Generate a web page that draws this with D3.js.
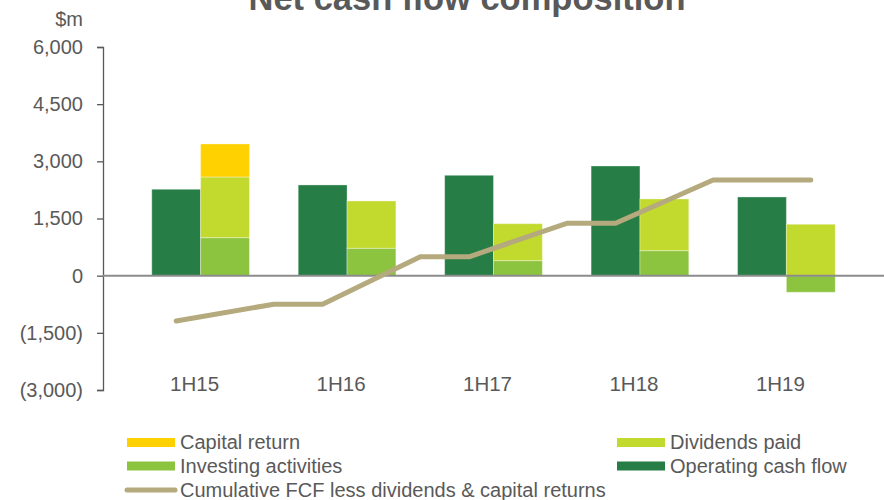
<!DOCTYPE html>
<html>
<head>
<meta charset="utf-8">
<script src="https://cdn.jsdelivr.net/npm/d3@7"></script>
<style>
  body { margin: 0; background: #fff; }
  svg { font-family: "Liberation Sans", Arial, sans-serif; }
</style>
</head>
<body>
<svg id="chart" width="884" height="500"></svg>
<script>
// Data ($m)
const periods = ["1H15", "1H16", "1H17", "1H18", "1H19"];
const operatingCashFlow = [2267, 2380, 2634, 2878, 2065];
const investingActivities = [997, 719, 394, 656, -436];
const dividendsPaid = [1593, 1241, 970, 1357, 1349];
const capitalReturn = [866, 0, 0, 0, 0];

// Cumulative line: points sit on bar centres and in the gaps between groups
const cumulativePeriods = ["1H15", "1H15", "1H16", "1H16", "1H17", "1H17", "1H18", "1H18", "1H19"];
const cumulativeSlots = ["op", "gap", "op", "gap", "op", "gap", "op", "gap", "stack"];
const cumulativeValues = [-1190, -750, -750, 495, 495, 1375, 1375, 2510, 2510];

const yTicks = [-3000, -1500, 0, 1500, 3000, 4500, 6000];

const colors = {
  operating: "#267d45",
  investing: "#8cc33f",
  dividends: "#c2d92e",
  capital: "#ffd100",
  line: "#b5aa7e",
  text: "#595959"
};

const svg = d3.select("#chart");

// Scales
const y = d3.scaleLinear().domain([-3000, 6000]).range([390, 47]);
const x0 = d3.scaleBand().domain(periods).range([103, 884]).padding(0.333);
const x1 = d3.scaleBand().domain(["op", "stack"]).range([0, x0.bandwidth()]);

function slotX(period, slot) {
  if (slot === "gap") return x0(period) + x0.bandwidth() + (x0.step() - x0.bandwidth()) / 2;
  return x0(period) + x1(slot) + x1.bandwidth() / 2;
}

// Title (partly cut off at the top, like the original)
svg.append("text")
  .attr("x", 467)
  .attr("y", 10)
  .attr("text-anchor", "middle")
  .attr("font-size", 34.5)
  .attr("font-weight", "bold")
  .attr("fill", colors.text)
  .text("Net cash flow composition");

// Unit label
svg.append("text")
  .attr("x", 83)
  .attr("y", 26)
  .attr("text-anchor", "end")
  .attr("font-size", 20)
  .attr("fill", colors.text)
  .text("$m");

// Y axis
const fmt = d3.format(",");
const yAxis = svg.append("g")
  .attr("transform", "translate(103,0)")
  .call(d3.axisLeft(y)
    .tickValues(yTicks)
    .tickSize(6)
    .tickPadding(14)
    .tickFormat(v => v < 0 ? "(" + fmt(-v) + ")" : fmt(v)));
yAxis.select(".domain").attr("stroke", colors.text).attr("stroke-width", 1.3);
yAxis.selectAll(".tick line").attr("stroke", colors.text).attr("stroke-width", 1.3);
yAxis.selectAll(".tick text")
  .attr("fill", colors.text)
  .attr("font-size", 20)
  .attr("font-family", "Liberation Sans, Arial, sans-serif");

// Operating cash flow bars
svg.append("g")
  .selectAll("rect")
  .data(periods)
  .join("rect")
  .attr("x", p => x0(p) + x1("op"))
  .attr("width", x1.bandwidth())
  .attr("y", (p, i) => y(Math.max(0, operatingCashFlow[i])))
  .attr("height", (p, i) => Math.abs(y(operatingCashFlow[i]) - y(0)))
  .attr("fill", colors.operating)
  .attr("stroke", "#fff")
  .attr("stroke-opacity", 0.35);

// Stacked bars: investing, dividends, capital return
const stackRows = periods.map((p, i) => ({
  period: p,
  investing: investingActivities[i],
  dividends: dividendsPaid[i],
  capital: capitalReturn[i]
}));
const series = d3.stack()
  .keys(["investing", "dividends", "capital"])
  .offset(d3.stackOffsetDiverging)(stackRows);

svg.append("g")
  .selectAll("g")
  .data(series)
  .join("g")
  .attr("fill", d => colors[d.key])
  .selectAll("rect")
  .data(d => d)
  .join("rect")
  .attr("x", d => x0(d.data.period) + x1("stack"))
  .attr("width", x1.bandwidth())
  .attr("y", d => y(d[1]))
  .attr("height", d => y(d[0]) - y(d[1]))
  .attr("stroke", "#fff")
  .attr("stroke-opacity", 0.35);

// Zero line
svg.append("line")
  .attr("x1", 103)
  .attr("x2", 884)
  .attr("y1", y(0))
  .attr("y2", y(0))
  .attr("stroke", "#8c8c8c")
  .attr("stroke-width", 2);

// Cumulative FCF line
const linePoints = cumulativeValues.map((v, i) => [slotX(cumulativePeriods[i], cumulativeSlots[i]), y(v)]);
svg.append("path")
  .attr("d", d3.line()(linePoints))
  .attr("fill", "none")
  .attr("stroke", colors.line)
  .attr("stroke-width", 5)
  .attr("stroke-linecap", "round")
  .attr("stroke-linejoin", "round");

// Category labels
svg.append("g")
  .selectAll("text")
  .data(periods)
  .join("text")
  .attr("x", p => x0(p) + x0.bandwidth() / 2 - 6)
  .attr("y", 391)
  .attr("text-anchor", "middle")
  .attr("font-size", 20.5)
  .attr("fill", colors.text)
  .text(p => p);

// Legend
const legendItems = [
  { label: "Capital return", color: colors.capital, type: "rect", x: 127, y: 442.5 },
  { label: "Dividends paid", color: colors.dividends, type: "rect", x: 617, y: 442.5 },
  { label: "Investing activities", color: colors.investing, type: "rect", x: 127, y: 466 },
  { label: "Operating cash flow", color: colors.operating, type: "rect", x: 617, y: 466 },
  { label: "Cumulative FCF less dividends & capital returns", color: colors.line, type: "line", x: 127, y: 490 }
];

const legend = svg.append("g")
  .selectAll("g")
  .data(legendItems)
  .join("g")
  .attr("transform", d => `translate(${d.x},${d.y})`);

legend.filter(d => d.type === "rect")
  .append("rect")
  .attr("x", 0)
  .attr("y", -4.5)
  .attr("width", 48)
  .attr("height", 9)
  .attr("fill", d => d.color);

legend.filter(d => d.type === "line")
  .append("line")
  .attr("x1", 0)
  .attr("x2", 48)
  .attr("stroke", d => d.color)
  .attr("stroke-width", 5)
  .attr("stroke-linecap", "round");

legend.append("text")
  .attr("x", 53)
  .attr("y", 6.5)
  .attr("font-size", 20)
  .attr("fill", colors.text)
  .text(d => d.label);
</script>
</body>
</html>
